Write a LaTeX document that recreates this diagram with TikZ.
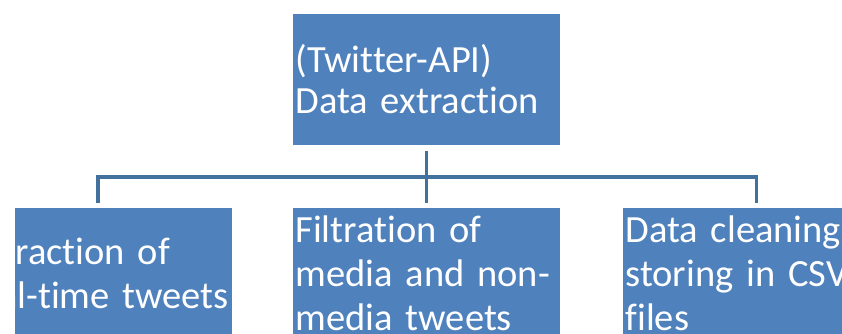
\documentclass[tikz,border=0pt]{standalone}
\usepackage{fontspec}
\setmainfont[Ligatures={NoCommon}]{Carlito}
\definecolor{boxblue}{HTML}{4F81BD}
\definecolor{lineblue}{HTML}{41719C}
\tikzset{
  stagebox/.style={rectangle, fill=boxblue, draw=none, minimum width=267pt, text width=262pt,
    inner xsep=2.5pt, inner ysep=0pt, align=left, text=white,
    font=\fontsize{38.5}{44}\selectfont},
  conn/.style={draw=lineblue, line width=3.5pt, shorten <=6pt, shorten >=5pt}
}
\begin{document}
\begin{tikzpicture}[x=1pt,y=-1pt]
\useasboundingbox (0,0) rectangle (842,334);
\clip (15,0) rectangle (842,334);
\node[stagebox, minimum height=131pt, font=\fontsize{38.5}{41}\selectfont] (top) at (426.5,79.5) {(Twitter-API)\\Data extraction};
\node[stagebox, minimum height=130pt] (left) at (98,273) {Extraction of\\real-time tweets};
\node[stagebox, minimum height=130pt] (mid) at (426.5,273) {Filtration of\\media and non-\\media tweets};
\node[stagebox, minimum height=130pt] (right) at (756.5,273) {Data cleaning\\storing in CSV\\files};
\coordinate (bus) at (426.5,177);
\draw[conn] (top.south) -- (bus) -| (left.north);
\draw[conn] (top.south) -- (bus) -| (right.north);
\draw[conn] (top.south) -- (mid.north);
\end{tikzpicture}
\end{document}
